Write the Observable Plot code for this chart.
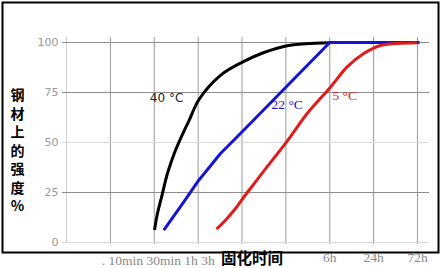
<!DOCTYPE html>
<html><head><meta charset="utf-8">
<script src="https://cdn.jsdelivr.net/npm/d3@7"></script>
<script src="https://cdn.jsdelivr.net/npm/@observablehq/plot@0.6"></script>
<style>html,body{margin:0;padding:0;background:#fff;} svg{display:block;}</style>
</head><body><div id="chart"></div>
<script>
// ---- data ----
const xIndex = [0, 1, 2, 3, 4, 5, 6, 7, 8];
const yTicks = [0, 25, 50, 75, 100];
const leftTickLabels = [".", "10min", "30min", "1h", "3h"];
const rightTickLabels = ["6h", "24h", "72h"];
const rightTickIndex = [6, 7, 8];
const xTitle = "固化时间";
const yTitleChars = ["钢", "材", "上", "的", "强", "度", "%"];

const black40X = [2.006, 2.074, 2.188, 2.302, 2.484, 2.68, 2.79, 3.02, 3.51, 4.02, 4.5, 5.03, 5.45, 6.0];
const black40Y = [6.2, 14.6, 24.6, 34.6, 46.1, 55.8, 60.8, 71.5, 83.6, 90.3, 95.0, 98.4, 99.4, 99.9];

const blue22X = [2.218, 2.674, 3.015, 3.51, 3.965, 6.0, 8.046];
const blue22Y = [6.15, 20.3, 31.15, 44.5, 54.5, 100, 100];

const red5X = [3.419, 3.624, 3.852, 4.018, 4.307, 4.535, 5.03, 5.486, 6.001, 6.398, 6.776, 7.157, 7.537, 7.993];
const red5Y = [6.65, 11.15, 17.0, 22.0, 30.3, 36.8, 50.65, 64.5, 77.3, 87.8, 94.5, 98.5, 99.5, 99.9];

const seriesLabels = ["40 °C", "22 °C", "5 °C"];
const seriesLabelX = [2.28, 5.03, 6.34];
const seriesLabelY = [72.4, 68.8, 73.5];

// ---- build ----
const toPts = (xs, ys) => xs.map((x, i) => ({x, y: ys[i]}));
const black40 = toPts(black40X, black40Y);
const blue22 = toPts(blue22X, blue22Y);
const red5 = toPts(red5X, red5Y);
const labels = seriesLabels.map((t, i) => ({x: seriesLabelX[i], y: seriesLabelY[i], text: t}));

const SERIF = "Liberation Serif, serif";
const SANS = "DejaVu Sans, sans-serif";
const CJK = "Noto Sans CJK SC, sans-serif";

const chart = Plot.plot({
  width: 440,
  height: 268,
  marginLeft: 66,
  marginRight: 23,
  marginTop: 42,
  marginBottom: 26,
  x: {domain: [0, 8], axis: null},
  y: {domain: [0, 100]},
  style: {background: "white"},
  marks: [
    Plot.frame({stroke: "black", strokeWidth: 2, insetLeft: -64, insetTop: -40, insetRight: -21, insetBottom: -10}),
    Plot.ruleX(xIndex, {x: d => d, filter: d => d === 0, stroke: "#cfcfcf", insetTop: -5, insetBottom: -1}),
    Plot.ruleX(xIndex, {x: d => d, filter: d => d !== 0, stroke: "#999", insetTop: -5, insetBottom: -2}),
    Plot.ruleY(yTicks, {y: d => d, filter: d => d === 0 || d === 50, stroke: "#dcdcdc", insetLeft: -4, insetRight: -12}),
    Plot.ruleY(yTicks, {y: d => d, filter: d => d !== 0 && d !== 50, stroke: "#8c8c8c", insetLeft: -4, insetRight: -12}),
    Plot.axisY(yTicks, {tickSize: 0, tickPadding: 8, color: "#999", fontSize: 11, fontFamily: SANS, label: null}),
    Plot.line(black40, {x: "x", y: "y", stroke: "#000", strokeWidth: 3, curve: "catmull-rom", strokeLinecap: "butt"}),
    Plot.line(blue22, {x: "x", y: "y", stroke: "#1414d2", strokeWidth: 3, curve: "linear", strokeLinecap: "butt"}),
    Plot.line(red5, {x: "x", y: "y", stroke: "#e01b1b", strokeWidth: 3, curve: "catmull-rom", strokeLinecap: "butt"}),
    Plot.text(labels.slice(0, 1), {x: "x", y: "y", text: "text", fill: "#222", fontSize: 12, fontFamily: SANS}),
    Plot.text(labels.slice(1, 2), {x: "x", y: "y", text: "text", fill: "#1414d2", fontSize: 13.5, fontFamily: SERIF}),
    Plot.text(labels.slice(2, 3), {x: "x", y: "y", text: "text", fill: "#e01b1b", fontSize: 13.5, fontFamily: SERIF}),
    // x tick labels
    Plot.text([{x: 2, text: leftTickLabels.join(" ")}], {x: "x", text: "text", frameAnchor: "bottom", lineAnchor: "middle", textAnchor: "middle", dx: 4, dy: 18, fill: "#888", fontSize: 13.5, fontFamily: SERIF}),
    Plot.text(rightTickIndex, {x: d => d, text: (d, i) => rightTickLabels[i], frameAnchor: "bottom", lineAnchor: "middle", textAnchor: "middle", dy: 15, fill: "#888", fontSize: 13.5, fontFamily: SERIF}),
    // titles
    Plot.text([{x: 4, text: xTitle}], {x: "x", text: "text", frameAnchor: "bottom", lineAnchor: "middle", textAnchor: "middle", dx: 10, dy: 17, fill: "#000", fontSize: 15.5, fontWeight: "bold", fontFamily: CJK}),
    Plot.text([yTitleChars.join("\n")], {text: d => d, frameAnchor: "left", textAnchor: "middle", lineAnchor: "middle", dx: -49, dy: 7.5, lineHeight: 1.32, fill: "#000", fontSize: 14, fontWeight: "bold", fontFamily: CJK})
  ]
});
document.getElementById("chart").append(chart);
</script>
</body></html>
